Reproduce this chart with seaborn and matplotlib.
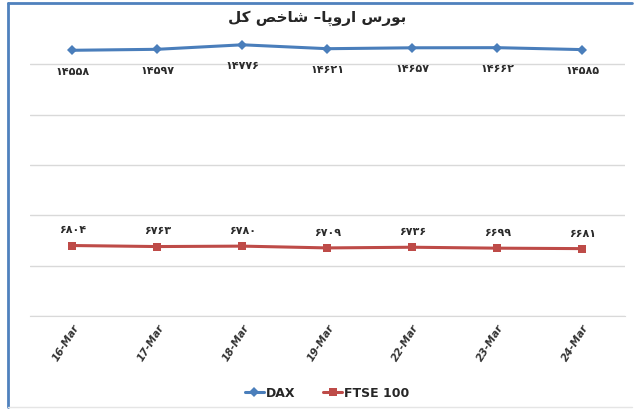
import pandas as pd
import matplotlib as mpl
import matplotlib.pyplot as plt
import seaborn as sns

dates = ["16-Mar", "17-Mar", "18-Mar", "19-Mar", "22-Mar", "23-Mar", "24-Mar"]
dax = [14558, 14597, 14776, 14621, 14657, 14662, 14585]
ftse = [6804, 6763, 6780, 6709, 6736, 6699, 6681]
series_names = ["DAX", "FTSE 100"]

# title in pre-shaped arabic presentation forms, visual (left-to-right) order
title_logical = "\uFE91\uFEEE\uFEAD\uFEB1 \uFE8D\uFEAD\uFEED\uFB58\uFE8E\u2013 \uFEB7\uFE8E\uFEA7\uFEBA \uFB90\uFEDE"
title_text = title_logical[::-1]

fa_digits = str.maketrans("0123456789", "\u06F0\u06F1\u06F2\u06F3\u06F4\u06F5\u06F6\u06F7\u06F8\u06F9")

def fa(n):
    return str(n).translate(fa_digits)

df = pd.DataFrame({
    "date": dates * 2,
    "value": dax + ftse,
    "series": [series_names[0]] * len(dates) + [series_names[1]] * len(dates),
})

sns.set_style("white")
plt.rcParams["font.family"] = ["DejaVu Sans"]

fig = plt.figure(figsize=(6.35, 4.14), dpi=100)
ax = fig.add_axes([0.047, 0.234, 0.937, 0.669])

colors = {"DAX": "#4A7EBB", "FTSE 100": "#BE4B48"}
sns.lineplot(
    data=df, x="date", y="value", hue="series", style="series",
    markers={"DAX": "D", "FTSE 100": "s"}, dashes=False,
    palette=colors, linewidth=2.2, markersize=5.5, sort=False,
    markeredgewidth=0, ax=ax
)
ax.set_xlim(-0.5, len(dates) - 0.5)
ax.set_ylim(4000, 15000)
ax.set_yticks(range(4000, 15000, 2000))
ax.yaxis.grid(True, color="#D9D9D9", linewidth=1)
ax.set_yticklabels([])
ax.tick_params(axis="y", length=0)
ax.tick_params(axis="x", length=0, pad=4)
for s in ["top", "right", "left"]:
    ax.spines[s].set_visible(False)
ax.spines["bottom"].set_color("#D9D9D9")
ax.set_xlabel("")
ax.set_ylabel("")
plt.setp(ax.get_xticklabels(), rotation=58, ha="right", rotation_mode="anchor",
         fontsize=7.5, fontweight="bold", fontstyle="italic", color="#333333")

for i, v in enumerate(dax):
    ax.annotate(fa(v), (i, v), xytext=(0, -11), textcoords="offset points",
                ha="center", va="top", fontsize=8, fontweight="bold", color="#2b2b2b")
for i, v in enumerate(ftse):
    ax.annotate(fa(v), (i, v), xytext=(0, 8), textcoords="offset points",
                ha="center", va="bottom", fontsize=8, fontweight="bold", color="#2b2b2b")

handles, labels = ax.get_legend_handles_labels()
ax.legend(handles, labels, loc="lower center", bbox_to_anchor=(0.5, -0.34),
          ncol=2, frameon=False, handlelength=1.5, handletextpad=0.2,
          columnspacing=2.2, prop={"weight": "bold", "size": 9})

fig.text(0.5, 0.955, title_text, ha="center", va="center", fontsize=11, fontweight="bold")

# chart frame
fig.add_artist(plt.Line2D([0.013, 0.013], [0.015, 0.99], color="#4F81BD", linewidth=2))
fig.add_artist(plt.Line2D([0.013, 0.995], [0.99, 0.99], color="#4F81BD", linewidth=2))
fig.add_artist(plt.Line2D([0.013, 0.995], [0.015, 0.015], color="#E5E5E5", linewidth=1))

plt.savefig("out.png", dpi=100)
plt.close()
